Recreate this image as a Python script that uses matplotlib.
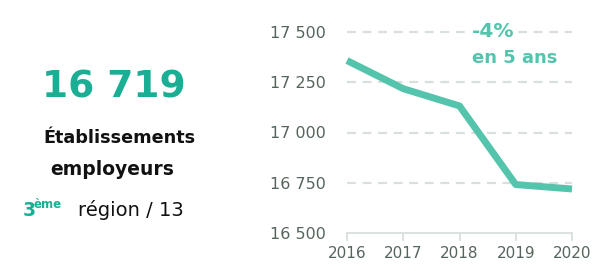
import matplotlib.pyplot as plt

plt.rcParams["font.family"] = ["DejaVu Sans"]

# Palette
TEAL = "#1aaf94"
LINE = "#55c4ad"
TICK = "#55655b"
GRID = "#d9e0dc"
DARK = "#111111"

years = [2016, 2017, 2018, 2019, 2020]
etablissements = [17358, 17218, 17132, 16741, 16719]
y_ticks = [16500, 16750, 17000, 17250, 17500]
y_labels = ["16 500", "16 750", "17 000", "17 250", "17 500"]

W, H = 604, 271
fig = plt.figure(figsize=(W / 100, H / 100), dpi=100, facecolor="white")


def fx(px):
    return px / W


def fy(py):
    return 1 - py / H


ax = fig.add_axes([fx(347), fy(233), fx(572) - fx(347), fy(32) - fy(233)])
ax.plot(years, etablissements, color=LINE, linewidth=5, solid_capstyle="butt",
        solid_joinstyle="round", clip_on=False, zorder=3)
ax.set_xlim(2016, 2020)
ax.set_ylim(16500, 17500)
ax.set_yticks(y_ticks)
ax.set_yticklabels(y_labels)
ax.set_xticks(years)
for s in ["top", "right", "left"]:
    ax.spines[s].set_visible(False)
ax.spines["bottom"].set_color(GRID)
ax.spines["bottom"].set_linewidth(1.3)
ax.tick_params(axis="y", length=0, pad=15, labelsize=11.5, labelcolor=TICK)
ax.tick_params(axis="x", length=6, width=1.3, color=GRID, pad=3, labelsize=11, labelcolor=TICK)
for v in y_ticks[1:]:
    ax.axhline(v, color=GRID, linewidth=1.6, linestyle=(0, (4, 3)), zorder=1, clip_on=False)

# Annotation de variation (fond blanc qui coupe la grille)
fig.text(fx(472), fy(37), "-4%", color=LINE, fontsize=14.5, fontweight="bold", ha="left", va="baseline",
         bbox=dict(facecolor="white", edgecolor="none", pad=1.5), zorder=5)
fig.text(fx(472), fy(63), "en 5 ans", color=LINE, fontsize=13, fontweight="bold", ha="left", va="baseline")

# Bloc chiffre clé
fig.text(fx(114), fy(97), "16 719", color=TEAL, fontsize=27, fontweight="bold", ha="center", va="baseline")
fig.text(fx(119), fy(143), "Établissements", color=DARK, fontsize=12.7, fontweight="bold", ha="center", va="baseline")
fig.text(fx(112), fy(175), "employeurs", color=DARK, fontsize=13.5, fontweight="bold", ha="center", va="baseline")
fig.text(fx(23), fy(216), "3", color=TEAL, fontsize=13.5, fontweight="bold", ha="left", va="baseline")
fig.text(fx(34), fy(208), "ème", color=TEAL, fontsize=8.5, fontweight="bold", ha="left", va="baseline")
fig.text(fx(78), fy(216), "région / 13", color=DARK, fontsize=14, ha="left", va="baseline")

fig.savefig("out.png", dpi=100, facecolor="white")
